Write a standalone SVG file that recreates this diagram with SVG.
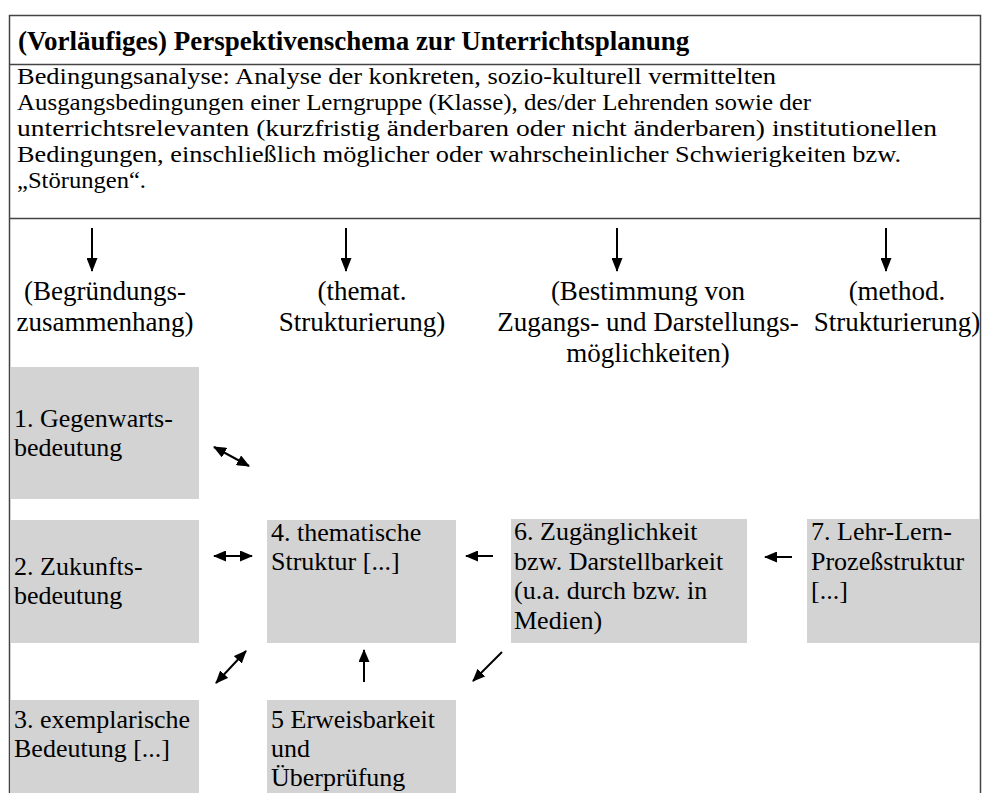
<svg xmlns="http://www.w3.org/2000/svg" width="987" height="793" viewBox="0 0 987 793">
  <style>
    text { font-family: "Liberation Serif", "DejaVu Serif", "Noto Serif", "Liberation Sans", serif; font-size: 26px; fill: #000; }
    .title { font-weight: bold; font-size: 27px; }
    .para { font-size: 23px; }
    .head { font-size: 27px; text-anchor: middle; }
    .box { fill: #d3d3d3; }
    .frame { stroke: #444; stroke-width: 1.5; fill: none; }
    .arr { stroke: #000; stroke-width: 2; fill: none; }
  </style>
  <defs>
    <marker id="head" viewBox="0 0 13 11" refX="12" refY="5.5" markerWidth="13" markerHeight="11" markerUnits="userSpaceOnUse" orient="auto-start-reverse">
      <path d="M0,0 L13,5.5 L0,11 Z" fill="#000"/>
    </marker>
    <marker id="down" viewBox="0 0 14 11" refX="13" refY="5.5" markerWidth="14" markerHeight="11" markerUnits="userSpaceOnUse" orient="auto">
      <path d="M0,0 L14,5.5 L0,11 Z" fill="#000"/>
    </marker>
  </defs>

  <rect width="987" height="793" fill="#fff"/>

  <!-- outer frame, open at the bottom -->
  <g id="frame">
    <path class="frame" d="M9.5,793 V15.5 H980.5 V793"/>
    <line class="frame" x1="9.5" y1="64.5" x2="980.5" y2="64.5"/>
    <line class="frame" x1="9.5" y1="218.5" x2="980.5" y2="218.5"/>
  </g>

  <g id="title">
    <text class="title" x="18" y="50">(Vorläufiges) Perspektivenschema zur Unterrichtsplanung</text>
  </g>

  <g id="bedingungsanalyse">
    <text class="para" x="17" y="84" textLength="759" lengthAdjust="spacingAndGlyphs">Bedingungsanalyse: Analyse der konkreten, sozio-kulturell vermittelten</text>
    <text class="para" x="17" y="110" textLength="794" lengthAdjust="spacingAndGlyphs">Ausgangsbedingungen einer Lerngruppe (Klasse), des/der Lehrenden sowie der</text>
    <text class="para" x="17" y="136" textLength="920" lengthAdjust="spacingAndGlyphs">unterrichtsrelevanten (kurzfristig änderbaren oder nicht änderbaren) institutionellen</text>
    <text class="para" x="17" y="162" textLength="884" lengthAdjust="spacingAndGlyphs">Bedingungen, einschließlich möglicher oder wahrscheinlicher Schwierigkeiten bzw.</text>
    <text class="para" x="17" y="188" textLength="129" lengthAdjust="spacingAndGlyphs">„Störungen“.</text>
  </g>

  <!-- column headings -->
  <g id="col-begruendung">
    <text class="head"><tspan x="105" y="300">(Begründungs-</tspan><tspan x="105" y="331">zusammenhang)</tspan></text>
  </g>
  <g id="col-thematisch">
    <text class="head"><tspan x="362" y="300">(themat.</tspan><tspan x="362" y="331">Strukturierung)</tspan></text>
  </g>
  <g id="col-zugang">
    <text class="head"><tspan x="648" y="300">(Bestimmung von</tspan><tspan x="648" y="331">Zugangs- und Darstellungs-</tspan><tspan x="648" y="362">möglichkeiten)</tspan></text>
  </g>
  <g id="col-methodisch">
    <text class="head"><tspan x="897" y="300">(method.</tspan><tspan x="897" y="331">Strukturierung)</tspan></text>
  </g>

  <!-- nodes -->
  <g id="n1">
    <rect class="box" x="11" y="367" width="188" height="132"/>
    <text><tspan x="14" y="427">1. Gegenwarts-</tspan><tspan x="14" y="456">bedeutung</tspan></text>
  </g>
  <g id="n2">
    <rect class="box" x="11" y="520" width="188" height="123"/>
    <text><tspan x="14" y="575">2. Zukunfts-</tspan><tspan x="14" y="604">bedeutung</tspan></text>
  </g>
  <g id="n3">
    <rect class="box" x="11" y="700" width="188" height="93"/>
    <text><tspan x="14" y="728">3. exemplarische</tspan><tspan x="14" y="757">Bedeutung [...]</tspan></text>
  </g>
  <g id="n4">
    <rect class="box" x="267" y="520" width="189" height="123"/>
    <text><tspan x="271" y="541">4. thematische</tspan><tspan x="271" y="570">Struktur [...]</tspan></text>
  </g>
  <g id="n5">
    <rect class="box" x="267" y="700" width="189" height="93"/>
    <text><tspan x="271" y="728">5 Erweisbarkeit</tspan><tspan x="271" y="757">und</tspan><tspan x="271" y="786">Überprüfung</tspan></text>
  </g>
  <g id="n6">
    <rect class="box" x="511" y="519" width="236" height="124"/>
    <text><tspan x="514" y="540">6. Zugänglichkeit</tspan><tspan x="514" y="569.5">bzw. Darstellbarkeit</tspan><tspan x="514" y="599">(u.a. durch bzw. in</tspan><tspan x="514" y="628.5">Medien)</tspan></text>
  </g>
  <g id="n7">
    <rect class="box" x="807" y="519" width="173" height="124"/>
    <text><tspan x="811" y="540">7. Lehr-Lern-</tspan><tspan x="811" y="569.5">Prozeßstruktur</tspan><tspan x="811" y="599">[...]</tspan></text>
  </g>

  <!-- connectors -->
  <g id="connectors">
    <line class="arr" x1="92" y1="228" x2="92" y2="271" marker-end="url(#down)"/>
    <line class="arr" x1="346" y1="228" x2="346" y2="271" marker-end="url(#down)"/>
    <line class="arr" x1="617" y1="228" x2="617" y2="271" marker-end="url(#down)"/>
    <line class="arr" x1="886" y1="228" x2="886" y2="271" marker-end="url(#down)"/>

    <line class="arr" x1="214" y1="447" x2="249" y2="466" marker-start="url(#head)" marker-end="url(#head)"/>
    <line class="arr" x1="214" y1="556" x2="252" y2="556" marker-start="url(#head)" marker-end="url(#head)"/>
    <line class="arr" x1="216" y1="683" x2="246" y2="651" marker-start="url(#head)" marker-end="url(#head)"/>
    <line class="arr" x1="364" y1="682" x2="364" y2="650" marker-end="url(#head)"/>
    <line class="arr" x1="493" y1="556" x2="466" y2="556" marker-end="url(#head)"/>
    <line class="arr" x1="502" y1="652" x2="473" y2="681" marker-end="url(#head)"/>
    <line class="arr" x1="792" y1="557" x2="765" y2="557" marker-end="url(#head)"/>
  </g>
</svg>
